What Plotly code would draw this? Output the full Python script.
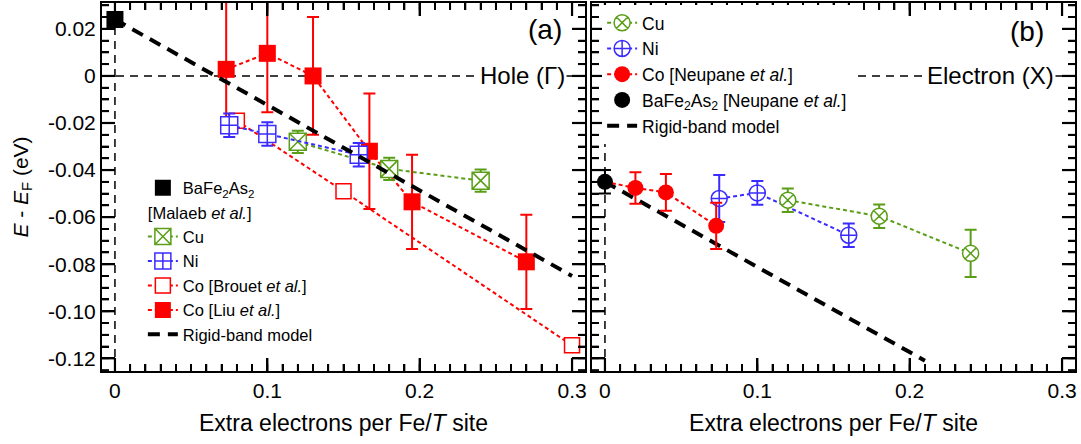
import numpy as np
import plotly.graph_objects as go

# ---------------- data ----------------
# Panel (a): hole pocket (Gamma)
ba_a_x = [0.0]
ba_a_y = [0.024]

cu_a_x = [0.12, 0.18, 0.24]
cu_a_y = [-0.028, -0.0395, -0.0445]
cu_a_err = [0.0047, 0.0047, 0.0047]

ni_a_x = [0.075, 0.10, 0.16]
ni_a_y = [-0.021, -0.0247, -0.0335]
ni_a_err = [0.005, 0.005, 0.005]

brouet_x = [0.08, 0.15, 0.30]
brouet_y = [-0.019, -0.049, -0.1145]

liu_x = [0.073, 0.10, 0.13, 0.167, 0.195, 0.27]
liu_y = [0.0028, 0.0096, 0.0, -0.032, -0.0535, -0.079]
liu_err_plus = [0.03, 0.025, 0.025, 0.0245, 0.02, 0.02]
liu_err_minus = [0.025, 0.025, 0.025, 0.0245, 0.02, 0.02]

rigid_a_x = [0.0, 0.30]
rigid_a_y = [0.024, -0.085]

# Panel (b): electron pocket (X)
ba_b_x = [0.0]
ba_b_y = [-0.045]
ba_b_err = [0.005]

co_b_x = [0.02, 0.04, 0.073]
co_b_y = [-0.0476, -0.0495, -0.0637]
co_b_err = [0.0067, 0.0078, 0.0098]

ni_b_x = [0.075, 0.10, 0.16]
ni_b_y = [-0.0521, -0.0497, -0.0677]
ni_b_err = [0.01, 0.005, 0.005]

cu_b_x = [0.12, 0.18, 0.24]
cu_b_y = [-0.0528, -0.0596, -0.0754]
cu_b_err = [0.005, 0.005, 0.01]

rigid_b_x = [0.0, 0.21]
rigid_b_y = [-0.045, -0.121]

x_tickvals = [0, 0.1, 0.2, 0.3]
x_ticktext = ["0", "0.1", "0.2", "0.3"]
x_minor_step = 0.01
y_tickvals = [0.02, 0.0, -0.02, -0.04, -0.06, -0.08, -0.10, -0.12]
y_ticktext = ["0.02", "0", "-0.02", "-0.04", "-0.06", "-0.08", "-0.10", "-0.12"]
y_minor_step = 0.005

x_range = [-0.0085, 0.3085]
y_range = [-0.1254, 0.031]

# ---------------- style ----------------
FONT = "Liberation Sans, Arial, sans-serif"
RED = "#ff0000"
BLUE = "#3a2bff"
GREEN = "#5a9e18"
BLACK = "#000000"
DOT = "4px,3px"
REF_DASH = "8px,6px"
MAJOR_LEN, MINOR_LEN = 13, 7
MAJOR_W, MINOR_W = 2.2, 1.8

fig = go.Figure()


def err(arr, color, w=6, minus=None):
    d = dict(type="data", array=arr, visible=True, color=color, thickness=2, width=w)
    if minus is not None:
        d["symmetric"] = False
        d["arrayminus"] = minus
    return d


# ---- reference lines (E = E_F and zero doping), drawn first so they sit below ----
for xa, ya in (("x", "y"), ("x2", "y2")):
    fig.add_trace(go.Scatter(x=x_range, y=[0, 0], mode="lines", showlegend=False, hoverinfo="skip",
                             line=dict(color=BLACK, width=1.5, dash=REF_DASH), xaxis=xa, yaxis=ya))
    fig.add_trace(go.Scatter(x=[0, 0], y=y_range, mode="lines", showlegend=False, hoverinfo="skip",
                             line=dict(color=BLACK, width=1.5, dash=REF_DASH), xaxis=xa, yaxis=ya))

# ---- panel (a) ----
fig.add_trace(go.Scatter(
    x=brouet_x, y=brouet_y, mode="lines+markers", name="Co [Brouet <i>et al.</i>]",
    line=dict(color=RED, width=2, dash=DOT),
    marker=dict(symbol="square", size=15, color="white", line=dict(color=RED, width=1.5)),
    legend="legend", legendgroup="malaeb", legendrank=4, xaxis="x", yaxis="y"))

fig.add_trace(go.Scatter(
    x=liu_x, y=liu_y, mode="lines+markers", name="Co [Liu <i>et al.</i>]",
    line=dict(color=RED, width=2, dash=DOT),
    marker=dict(symbol="square", size=17, color=RED, line=dict(width=0)),
    error_y=err(liu_err_plus, RED, minus=liu_err_minus),
    legend="legend", legendgroup="malaeb", legendrank=5, xaxis="x", yaxis="y"))

fig.add_trace(go.Scatter(
    x=cu_a_x, y=cu_a_y, mode="lines+markers", name="Cu",
    line=dict(color=GREEN, width=2, dash=DOT),
    marker=dict(symbol="square-x", size=17, color="white", line=dict(color=GREEN, width=1.5)),
    error_y=err(cu_a_err, GREEN),
    legend="legend", legendgroup="malaeb", legendrank=2,
    legendgrouptitle=dict(text="[Malaeb <i>et al.</i>]", font=dict(size=16.5, family=FONT, color=BLACK)),
    xaxis="x", yaxis="y"))

fig.add_trace(go.Scatter(
    x=ni_a_x, y=ni_a_y, mode="lines+markers", name="Ni",
    line=dict(color=BLUE, width=2, dash=DOT),
    marker=dict(symbol="square-cross", size=17, color="white", line=dict(color=BLUE, width=1.5)),
    error_y=err(ni_a_err, BLUE),
    legend="legend", legendgroup="malaeb", legendrank=3, xaxis="x", yaxis="y"))

fig.add_trace(go.Scatter(
    x=rigid_a_x, y=rigid_a_y, mode="lines", name="Rigid-band model",
    line=dict(color=BLACK, width=4, dash="12px,8px"),
    legend="legend", legendgroup="malaeb", legendrank=6, xaxis="x", yaxis="y"))

fig.add_trace(go.Scatter(
    x=ba_a_x, y=ba_a_y, mode="markers", name="BaFe<sub>2</sub>As<sub>2</sub>",
    marker=dict(symbol="square", size=17, color=BLACK),
    legend="legend", legendgroup="ba", legendrank=1, xaxis="x", yaxis="y"))

# ---- panel (b) ----
fig.add_trace(go.Scatter(
    x=rigid_b_x, y=rigid_b_y, mode="lines", name="Rigid-band model",
    line=dict(color=BLACK, width=4, dash="12px,8px"),
    legend="legend2", legendrank=5, xaxis="x2", yaxis="y2"))

fig.add_trace(go.Scatter(
    x=[ba_b_x[0], co_b_x[0]], y=[ba_b_y[0], co_b_y[0]], mode="lines",
    line=dict(color=RED, width=2, dash=DOT), showlegend=False, hoverinfo="skip",
    xaxis="x2", yaxis="y2"))

fig.add_trace(go.Scatter(
    x=ni_b_x, y=ni_b_y, mode="lines+markers", name="Ni",
    line=dict(color=BLUE, width=2, dash=DOT),
    marker=dict(symbol="circle-cross", size=16, color="white", line=dict(color=BLUE, width=1.5)),
    error_y=err(ni_b_err, BLUE),
    legend="legend2", legendrank=2, xaxis="x2", yaxis="y2"))

fig.add_trace(go.Scatter(
    x=cu_b_x, y=cu_b_y, mode="lines+markers", name="Cu",
    line=dict(color=GREEN, width=2, dash=DOT),
    marker=dict(symbol="circle-x", size=16, color="white", line=dict(color=GREEN, width=1.5)),
    error_y=err(cu_b_err, GREEN),
    legend="legend2", legendrank=1, xaxis="x2", yaxis="y2"))

fig.add_trace(go.Scatter(
    x=co_b_x, y=co_b_y, mode="lines+markers", name="Co [Neupane <i>et al.</i>]",
    line=dict(color=RED, width=2, dash=DOT),
    marker=dict(symbol="circle", size=16, color=RED),
    error_y=err(co_b_err, RED),
    legend="legend2", legendrank=3, xaxis="x2", yaxis="y2"))

fig.add_trace(go.Scatter(
    x=ba_b_x, y=ba_b_y, mode="markers", name="BaFe<sub>2</sub>As<sub>2</sub> [Neupane <i>et al.</i>]",
    marker=dict(symbol="circle", size=16, color=BLACK),
    error_y=err(ba_b_err, BLACK),
    legend="legend2", legendrank=4, xaxis="x2", yaxis="y2"))

annotations = [
    dict(text="(a)", x=0.282, y=0.0198, xref="x", yref="y", showarrow=False,
         font=dict(family=FONT, size=28, color=BLACK)),
    dict(text="Hole (\u0393)", x=0.2675, y=0.0, xref="x", yref="y", showarrow=False,
         bgcolor="white", borderpad=1, font=dict(family=FONT, size=24, color=BLACK)),
    dict(text="(b)", x=0.277, y=0.019, xref="x2", yref="y2", showarrow=False,
         font=dict(family=FONT, size=28, color=BLACK)),
    dict(text="Electron (X)", x=0.253, y=0.0, xref="x2", yref="y2", showarrow=False,
         bgcolor="white", borderpad=1, font=dict(family=FONT, size=24, color=BLACK)),
]

# ---- inward tick marks on all four sides of each panel (placed on the axes' own scales;
#      shapes are clipped to the plot area, so only the inner half of each mark shows) ----
x_minor_vals = [float(v) for v in np.round(np.arange(0, x_range[1], x_minor_step), 4)]
y_minor_vals = [float(v) for v in np.round(np.arange(-0.125, y_range[1], y_minor_step), 4)]

tick_shapes = []
for xr, yr in (("x", "y"), ("x2", "y2")):
    for vals, ln, lw in ((x_minor_vals, MINOR_LEN, MINOR_W), (x_tickvals, MAJOR_LEN, MAJOR_W)):
        for v in vals:
            for anchor in (y_range[0], y_range[1]):
                tick_shapes.append(dict(type="line", xref=xr, yref=yr, x0=v, x1=v,
                                        ysizemode="pixel", yanchor=anchor, y0=-ln, y1=ln,
                                        line=dict(color=BLACK, width=lw), layer="above"))
    for vals, ln, lw in ((y_minor_vals, MINOR_LEN, MINOR_W), (y_tickvals, MAJOR_LEN, MAJOR_W)):
        for v in vals:
            for anchor in (x_range[0], x_range[1]):
                tick_shapes.append(dict(type="line", xref=xr, yref=yr, y0=v, y1=v,
                                        xsizemode="pixel", xanchor=anchor, x0=-ln, x1=ln,
                                        line=dict(color=BLACK, width=lw), layer="above"))

fig.update_layout(
    template="none",
    width=1081, height=444,
    margin=dict(l=102, r=6, t=3, b=73),
    paper_bgcolor="white", plot_bgcolor="white",
    font=dict(family=FONT, color=BLACK),
    xaxis=dict(domain=[0, 0.4964], anchor="y"),
    yaxis=dict(domain=[0, 1], anchor="x"),
    xaxis2=dict(domain=[0.5036, 1], anchor="y2"),
    yaxis2=dict(domain=[0, 1], anchor="x2"),
    annotations=annotations,
    shapes=tick_shapes,
    legend=dict(x=0.042, y=0.545, xanchor="left", yanchor="top", bgcolor="rgba(0,0,0,0)",
                font=dict(family=FONT, size=16.5, color=BLACK), traceorder="grouped",
                tracegroupgap=0, itemsizing="trace", borderwidth=0),
    legend2=dict(x=0.514, y=0.995, xanchor="left", yanchor="top", bgcolor="white",
                 font=dict(family=FONT, size=17.5, color=BLACK), traceorder="normal",
                 itemsizing="trace", borderwidth=0),
    showlegend=True,
)

# ---------------- axes ----------------
tickfont = dict(family=FONT, size=21, color=BLACK)
fig.update_xaxes(range=x_range, tickmode="array", tickvals=x_tickvals, ticktext=x_ticktext,
                 ticks="inside", ticklen=MAJOR_LEN, tickwidth=MAJOR_W, tickcolor=BLACK,
                 showline=True, linewidth=2, linecolor=BLACK, mirror="ticks",
                 showgrid=False, zeroline=False, tickfont=tickfont,
                 minor=dict(ticks="inside", ticklen=MINOR_LEN, tickwidth=MINOR_W, tickcolor=BLACK,
                            dtick=x_minor_step, tick0=0),
                 title=dict(text="Extra electrons per Fe/<i>T</i> site",
                            font=dict(family=FONT, size=23, color=BLACK), standoff=14))
fig.update_yaxes(range=y_range, tickmode="array", tickvals=y_tickvals, ticktext=y_ticktext,
                 ticks="inside", ticklen=MAJOR_LEN, tickwidth=MAJOR_W, tickcolor=BLACK,
                 showline=True, linewidth=2, linecolor=BLACK, mirror="ticks",
                 showgrid=False, zeroline=False, tickfont=tickfont,
                 minor=dict(ticks="inside", ticklen=MINOR_LEN, tickwidth=MINOR_W, tickcolor=BLACK,
                            dtick=y_minor_step, tick0=0))
fig.layout.yaxis.title = dict(text="<i>E</i> - <i>E</i><sub>F</sub> (eV)",
                              font=dict(family=FONT, size=21, color=BLACK), standoff=14)
fig.layout.yaxis2.showticklabels = False

fig.write_html("out.html")
